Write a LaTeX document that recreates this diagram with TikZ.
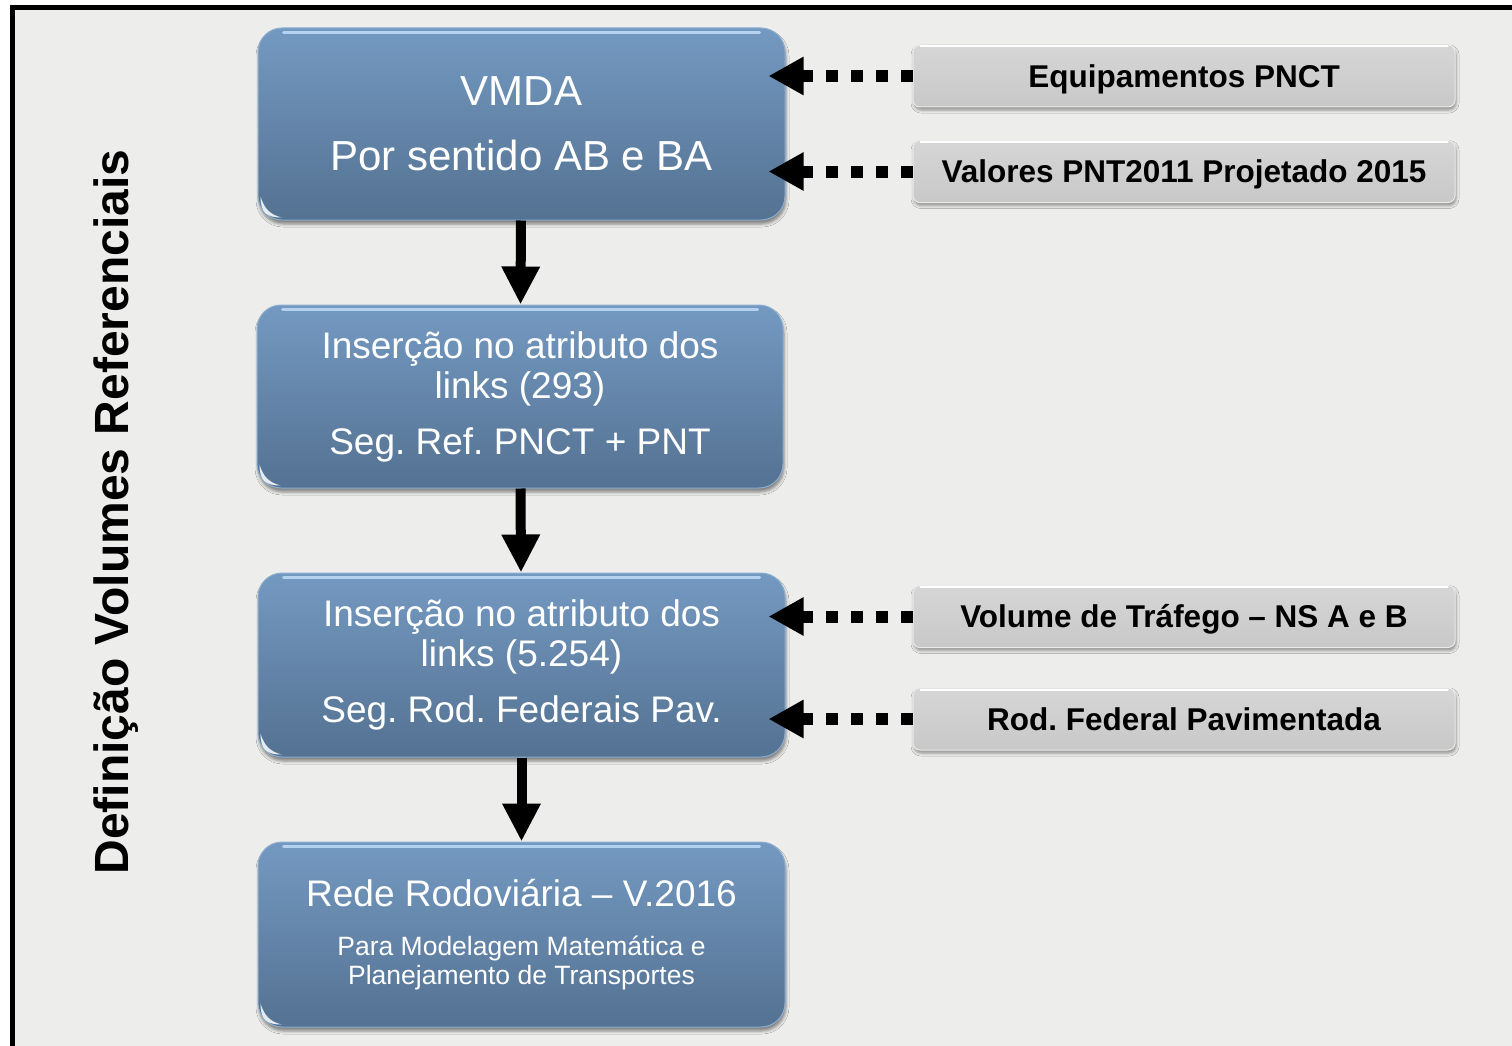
\documentclass[tikz,border=0pt]{standalone}
\usepackage{fontspec}
\setmainfont{Liberation Sans}
\usetikzlibrary{arrows.meta,shadows.blur}
\definecolor{bg}{HTML}{EDEDEB}
\definecolor{bluetop}{HTML}{7499C1}
\definecolor{bluebot}{HTML}{547292}
\definecolor{blueedge}{HTML}{8CAED2}
\definecolor{hilite}{HTML}{B4D2F0}
\definecolor{graytop}{HTML}{D6D6D6}
\definecolor{graybot}{HTML}{C8C8C8}
\tikzset{
  bluebox/.style={rounded corners=24pt, top color=bluetop, bottom color=bluebot,
    draw=blueedge, line width=1pt, text=white, align=center, inner sep=0pt,
    blur shadow={shadow xshift=1pt, shadow yshift=-4pt, shadow blur radius=3pt, shadow opacity=45}},
  graybox/.style={rounded corners=7pt, top color=graytop, bottom color=graybot,
    draw=white!92!black, line width=1pt, text=black, align=center, inner sep=0pt,
    minimum width=542pt, minimum height=62pt, text height=22.6pt, text depth=0pt,
    font=\bfseries\fontsize{31.5}{34}\selectfont,
    blur shadow={shadow xshift=1pt, shadow yshift=-3pt, shadow blur radius=3pt, shadow opacity=40}},
  solidarrow/.style={line width=10pt, -{Triangle[width=36pt,length=38pt]}},
  dotarrow/.style={line width=12pt, dash pattern=on 12pt off 13pt,
    -{Triangle[width=36pt,length=35pt]}, shorten >=-17pt},
  hl/.style={line width=3pt, color=hilite, line cap=round},
  glint/.style={fill=white, fill opacity=0.85}
}
\newcommand\bluedeco[1]{%
  \draw[hl] ([xshift=26pt,yshift=-5pt]#1.north west) -- ([xshift=-26pt,yshift=-5pt]#1.north east);
  \path[glint] ([xshift=3pt,yshift=24pt]#1.south west)
     .. controls ([xshift=3pt,yshift=8pt]#1.south west) and ([xshift=9pt,yshift=3pt]#1.south west) .. ([xshift=24pt,yshift=3pt]#1.south west)
     .. controls ([xshift=13pt,yshift=6pt]#1.south west) and ([xshift=7pt,yshift=11pt]#1.south west) .. cycle;
}
\begin{document}
\frenchspacing
\begin{tikzpicture}[x=1pt,y=-1pt]
\useasboundingbox (0,0) rectangle (1512,1046);
\fill[white] (0,0) rectangle (1512,1046);
\begin{scope}
  \clip (0,0) rectangle (1512,1046);
  \draw[line width=5pt, fill=bg] (12.5,7.5) rectangle (1540,1070);
\end{scope}

% title
\node[rotate=90, font=\bfseries\fontsize{48}{50}\selectfont] (title) at (116.5,512) {Definição Volumes Referenciais};

% blue boxes
\node[bluebox, minimum width=527pt, minimum height=192pt, font=\fontsize{42}{42}\selectfont] (b1) at (521.5,124)
  {VMDA\\[23pt]Por sentido AB e BA};
\node[bluebox, minimum width=526pt, minimum height=183pt, font=\fontsize{37}{40}\selectfont] (b2) at (520,396.5)
  {Inserção no atributo dos\\links (293)\\[16pt]Seg. Ref. PNCT + PNT};
\node[bluebox, minimum width=527pt, minimum height=184pt, font=\fontsize{37}{40}\selectfont] (b3) at (521.5,665)
  {Inserção no atributo dos\\links (5.254)\\[16pt]Seg. Rod. Federais Pav.};
\node[bluebox, minimum width=527pt, minimum height=185pt, font=\fontsize{37}{40}\selectfont] (b4) at (521.5,934.5)
  {Rede Rodoviária – V.2016\\[9pt]\fontsize{26.5}{29}\selectfont Para Modelagem Matemática e\\[-11pt]\fontsize{26.5}{29}\selectfont Planejamento de Transportes};
\bluedeco{b1}
\bluedeco{b2}
\bluedeco{b3}
\bluedeco{b4}

% gray boxes
\node[graybox] (g1) at (1184,76) {Equipamentos PNCT};
\node[graybox] (g2) at (1184,171.5) {Valores PNT2011 Projetado 2015};
\node[graybox] (g3) at (1184,616.5) {Volume de Tráfego – NS A e B};
\node[graybox] (g4) at (1184,719) {Rod. Federal Pavimentada};
\foreach \g in {g1,g2,g3,g4}{
  \draw[line width=2pt, white, line cap=round] ([xshift=8pt,yshift=-2pt]\g.north west) -- ([xshift=-8pt,yshift=-2pt]\g.north east);
}

% connectors
\draw[solidarrow] (b1) -- (b2);
\draw[solidarrow] (b2) -- (b3);
\draw[solidarrow] (b3) -- (b4);
\draw[dotarrow] (g1.west) -- (g1.west -| b1.east);
\draw[dotarrow] (g2.west) -- (g2.west -| b1.east);
\draw[dotarrow] (g3.west) -- (g3.west -| b3.east);
\draw[dotarrow] (g4.west) -- (g4.west -| b3.east);
\end{tikzpicture}
\end{document}
